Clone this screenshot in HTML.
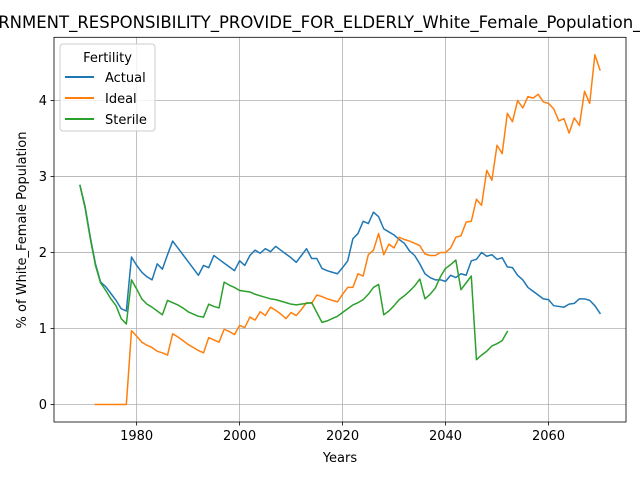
<!DOCTYPE html>
<html><head><meta charset="utf-8"><style>
body{margin:0;background:#fff;width:640px;height:480px;overflow:hidden}
svg text{font-family:"DejaVu Sans","Liberation Sans",sans-serif;fill:#000}
</style></head><body>
<svg id="chart" width="640" height="480" viewBox="0 0 640 480" xmlns="http://www.w3.org/2000/svg">
<rect x="0" y="0" width="640" height="480" fill="#fff"/>
<text x="-49" y="28" font-size="16.5" text-anchor="start">GOVERNMENT_RESPONSIBILITY_PROVIDE_FOR_ELDERLY_White_Female_Population_Fertility</text>
<g id="grid"></g>
<g id="series"></g>
<g id="axes"></g>
<text x="340" y="462" font-size="13" text-anchor="middle">Years</text>
<text transform="translate(26,230) rotate(-90)" font-size="13" text-anchor="middle">% of White_Female Population</text>
<g>
<rect x="60" y="44" width="95" height="87" rx="3" fill="#fff" fill-opacity="0.8" stroke="#ccc"/>
<text x="107.5" y="62" font-size="13" text-anchor="middle">Fertility</text>
<line x1="65" y1="77" x2="94" y2="77" stroke="#1f77b4" stroke-width="2"/>
<text x="105" y="82" font-size="13">Actual</text>
<line x1="65" y1="98" x2="94" y2="98" stroke="#ff7f0e" stroke-width="2"/>
<text x="105" y="103" font-size="13">Ideal</text>
<line x1="65" y1="119" x2="94" y2="119" stroke="#2ca02c" stroke-width="2"/>
<text x="105" y="124" font-size="13">Sterile</text>
</g>
</svg>
<script>
const actualStart = 1969;
const actual = [2.88,2.60,2.20,1.85,1.61,1.55,1.46,1.37,1.26,1.23,1.94,1.83,1.74,1.68,1.64,1.85,1.78,1.97,2.15,2.06,1.97,1.88,1.79,1.70,1.83,1.80,1.96,1.91,1.86,1.81,1.76,1.89,1.83,1.96,2.03,1.99,2.05,2.01,2.08,2.03,1.98,1.93,1.87,1.96,2.05,1.92,1.92,1.79,1.76,1.74,1.72,1.80,1.89,2.18,2.25,2.41,2.38,2.53,2.47,2.31,2.27,2.23,2.17,2.12,2.02,1.96,1.85,1.72,1.67,1.64,1.64,1.62,1.70,1.67,1.72,1.70,1.89,1.91,2.00,1.95,1.97,1.91,1.93,1.81,1.80,1.70,1.64,1.54,1.49,1.44,1.39,1.38,1.30,1.29,1.28,1.32,1.33,1.39,1.39,1.37,1.30,1.20];
const idealStart = 1972;
const ideal = [0,0,0,0,0,0,0,0.97,0.90,0.82,0.78,0.75,0.70,0.68,0.65,0.93,0.89,0.84,0.79,0.75,0.71,0.68,0.88,0.85,0.82,0.99,0.96,0.92,1.04,1.01,1.15,1.11,1.22,1.17,1.28,1.24,1.19,1.13,1.21,1.17,1.25,1.34,1.33,1.44,1.42,1.39,1.37,1.35,1.45,1.54,1.54,1.72,1.69,1.97,2.03,2.25,1.97,2.11,2.06,2.20,2.17,2.15,2.12,2.09,1.98,1.96,1.96,2.00,2.00,2.06,2.20,2.22,2.40,2.41,2.70,2.62,3.08,2.95,3.41,3.30,3.83,3.72,4.00,3.90,4.05,4.03,4.08,3.98,3.96,3.89,3.73,3.76,3.57,3.77,3.67,4.12,3.96,4.60,4.40];
const sterileStart = 1969;
const sterile = [2.88,2.58,2.18,1.83,1.60,1.50,1.39,1.30,1.13,1.06,1.64,1.52,1.39,1.32,1.28,1.23,1.18,1.37,1.34,1.31,1.27,1.22,1.19,1.16,1.15,1.32,1.29,1.27,1.61,1.57,1.54,1.50,1.49,1.48,1.45,1.43,1.41,1.39,1.38,1.36,1.34,1.32,1.31,1.32,1.33,1.34,1.21,1.08,1.10,1.13,1.16,1.21,1.26,1.31,1.34,1.38,1.45,1.54,1.58,1.18,1.23,1.30,1.38,1.43,1.49,1.56,1.65,1.39,1.45,1.53,1.68,1.79,1.84,1.90,1.51,1.60,1.69,0.59,0.65,0.70,0.77,0.80,0.84,0.96];
const xTicks = [1980,2000,2020,2040,2060];
const yTicks = [0,1,2,3,4];

const L=54,R=626,T=37.3,B=422;
const xMin=1963.95,xMax=2075.05,yMin=-0.23,yMax=4.83;
function sx(v){return L+(v-xMin)/(xMax-xMin)*(R-L);}
function sy(v){return B-(v-yMin)/(yMax-yMin)*(B-T);}
const NS="http://www.w3.org/2000/svg";
function mk(tag,attrs,parent){const e=document.createElementNS(NS,tag);for(const k in attrs)e.setAttribute(k,attrs[k]);parent.appendChild(e);return e;}
const grid=document.getElementById('grid'),axes=document.getElementById('axes'),series=document.getElementById('series');
xTicks.forEach(t=>{
  const g=mk('line',{x1:sx(t),x2:sx(t),y1:T,y2:B,stroke:'#b0b0b0','stroke-width':0.8},grid);
  
  
  const tk=mk('line',{x1:sx(t),x2:sx(t),y1:B,y2:B+3.5,stroke:'#000','stroke-width':0.8},axes);
  
  
  const lb=mk('text',{x:sx(t),y:B+18,'font-size':13,'text-anchor':'middle'},axes);
  lb.textContent=t;
  
  
});
yTicks.forEach(t=>{
  const g=mk('line',{x1:L,x2:R,y1:sy(t),y2:sy(t),stroke:'#b0b0b0','stroke-width':0.8},grid);
  
  
  const tk=mk('line',{x1:L-3.5,x2:L,y1:sy(t),y2:sy(t),stroke:'#000','stroke-width':0.8},axes);
  
  
  const lb=mk('text',{x:L-7,y:sy(t)+4.5,'font-size':13,'text-anchor':'end'},axes);
  lb.textContent=t;
  
  
});
const frame=mk('rect',{x:L,y:T,width:R-L,height:B-T,fill:'none',stroke:'#000','stroke-width':0.8},axes);


function line(start,vals,color,name){
  const pts=vals.map((v,i)=>sx(start+i).toFixed(2)+','+sy(v).toFixed(2)).join(' ');
  const p=mk('polyline',{points:pts,fill:'none',stroke:color,'stroke-width':1.5,'stroke-linejoin':'round','stroke-linecap':'square'},series);
  
  
}
line(actualStart,actual,'#1f77b4','actual-line');
line(idealStart,ideal,'#ff7f0e','ideal-line');
line(sterileStart,sterile,'#2ca02c','sterile-line');
</script>
</body></html>
